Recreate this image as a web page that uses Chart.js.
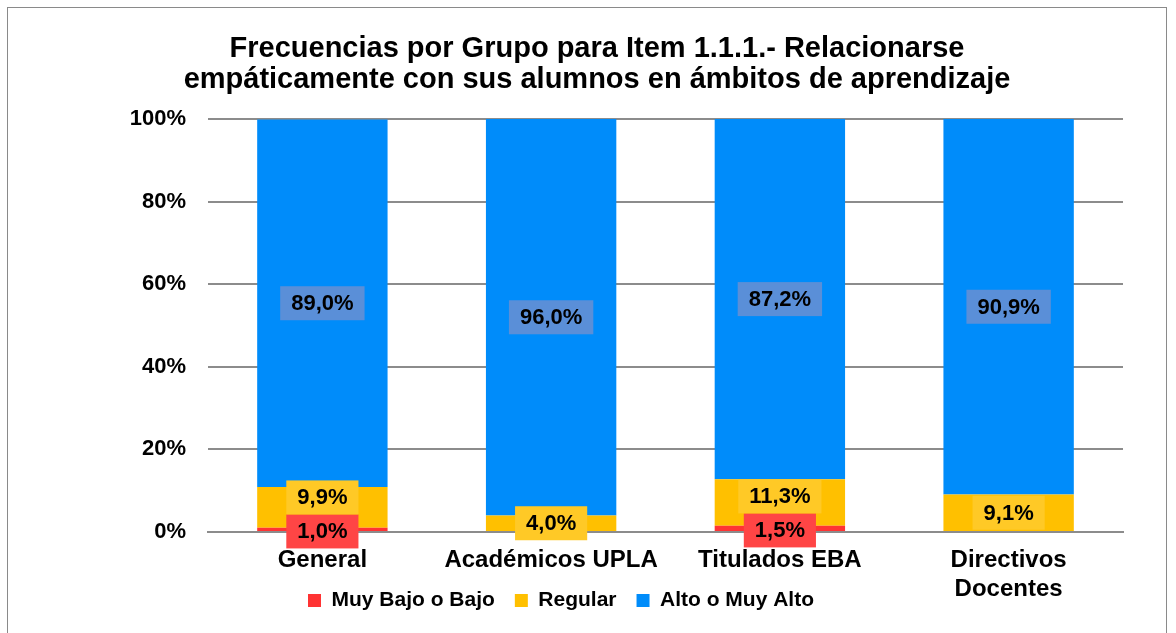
<!DOCTYPE html>
<html>
<head>
<meta charset="utf-8">
<script src="https://cdn.jsdelivr.net/npm/chart.js@4.4.1/dist/chart.umd.min.js"></script>
<style>
  body { margin: 0; background: #fff; }
  #box { position: absolute; left: 7px; top: 7px; width: 1158px; height: 640px; border: 1px solid #8a8a8a; }
  canvas { position: absolute; left: 0; top: 0; }
</style>
</head>
<body>
<div id="box"><canvas id="myChart" width="1158" height="626"></canvas></div>
<script>
// datos
const grupos = ['General', 'Académicos UPLA', 'Titulados EBA', ['Directivos', 'Docentes']];
const muyBajo = [1.0, 0, 1.5, 0];
const regular = [9.9, 4.0, 11.3, 9.1];
const alto = [89.0, 96.0, 87.2, 90.9];
const yTicks = [0, 20, 40, 60, 80, 100];

const FONT = '"Liberation Sans", Arial, sans-serif';
const labelBg = ['#FF4545', '#FFC926', '#5A8FD8'];

// etiquetas con caja de fondo, como en excel
const etiquetas = {
  id: 'etiquetas',
  afterLayout(chart) {
    // la leyenda va un poco a la izquierda
    chart.legend.left -= 36;
    chart.legend.right -= 36;
  },
  afterDatasetsDraw(chart) {
    const ctx = chart.ctx;
    ctx.save();
    ctx.font = 'bold 22px ' + FONT;
    ctx.textAlign = 'center';
    ctx.textBaseline = 'middle';
    const redTop = {};
    chart.data.datasets.forEach((ds, di) => {
      const meta = chart.getDatasetMeta(di);
      meta.data.forEach((el, i) => {
        const v = ds.data[i];
        if (!v) return;
        const txt = v.toFixed(1).replace('.', ',') + '%';
        const w = ctx.measureText(txt).width + 22;
        const h = 34;
        let y = (el.y + el.base) / 2;
        if (di == 0) y += 2;
        if (di == 1 && redTop[i] !== undefined) {
          y = Math.min(y, redTop[i] - h / 2);
        }
        if (di == 0) redTop[i] = y - h / 2;
        ctx.fillStyle = labelBg[di];
        ctx.fillRect(el.x - w / 2, y - h / 2, w, h);
        ctx.fillStyle = '#000';
        ctx.fillText(txt, el.x, y + 1);
      });
    });
    ctx.restore();
  }
};

new Chart(document.getElementById('myChart'), {
  type: 'bar',
  data: {
    labels: grupos,
    datasets: [
      { label: 'Muy Bajo o Bajo', data: muyBajo, backgroundColor: '#FF3333' },
      { label: 'Regular', data: regular, backgroundColor: '#FFC000' },
      { label: 'Alto o Muy Alto', data: alto, backgroundColor: '#008CFA' }
    ]
  },
  options: {
    responsive: false,
    animation: false,
    barPercentage: 0.57,
    categoryPercentage: 1,
    layout: { padding: { left: 63, right: 43, bottom: 13 } },
    plugins: {
      title: {
        display: true,
        text: ['Frecuencias por Grupo para Item 1.1.1.- Relacionarse', 'empáticamente con sus alumnos en ámbitos de aprendizaje'],
        color: '#000',
        font: { family: FONT, size: 29, weight: 'bold', lineHeight: 1.07 },
        padding: { top: 25, bottom: 24 }
      },
      legend: {
        position: 'bottom',
        labels: {
          color: '#000',
          boxWidth: 13,
          boxHeight: 13,
          padding: 20,
          font: { family: FONT, size: 21, weight: 'bold' }
        }
      },
      tooltip: { enabled: false }
    },
    scales: {
      x: {
        stacked: true,
        border: { color: '#8c8c8c', width: 2 },
        grid: { display: false, drawTicks: false },
        ticks: { color: '#000', padding: 14, maxRotation: 0, font: { family: FONT, size: 24, weight: 'bold', lineHeight: 1.2 } },
        afterFit(s) {
          s.height = 38;
          s._computeLabelArea = () => undefined; // no recortar "Docentes"
        }
      },
      y: {
        stacked: true,
        min: 0,
        max: 100,
        afterBuildTicks(s) { s.ticks = yTicks.map(v => ({ value: v })); },
        afterFit(s) { s.width = 137; },
        border: { display: false },
        grid: { color: '#8c8c8c', lineWidth: 2, drawTicks: false },
        ticks: { color: '#000', padding: 22, font: { family: FONT, size: 22, weight: 'bold' }, callback: v => v + '%' }
      }
    }
  },
  plugins: [etiquetas]
});
</script>
</body>
</html>
